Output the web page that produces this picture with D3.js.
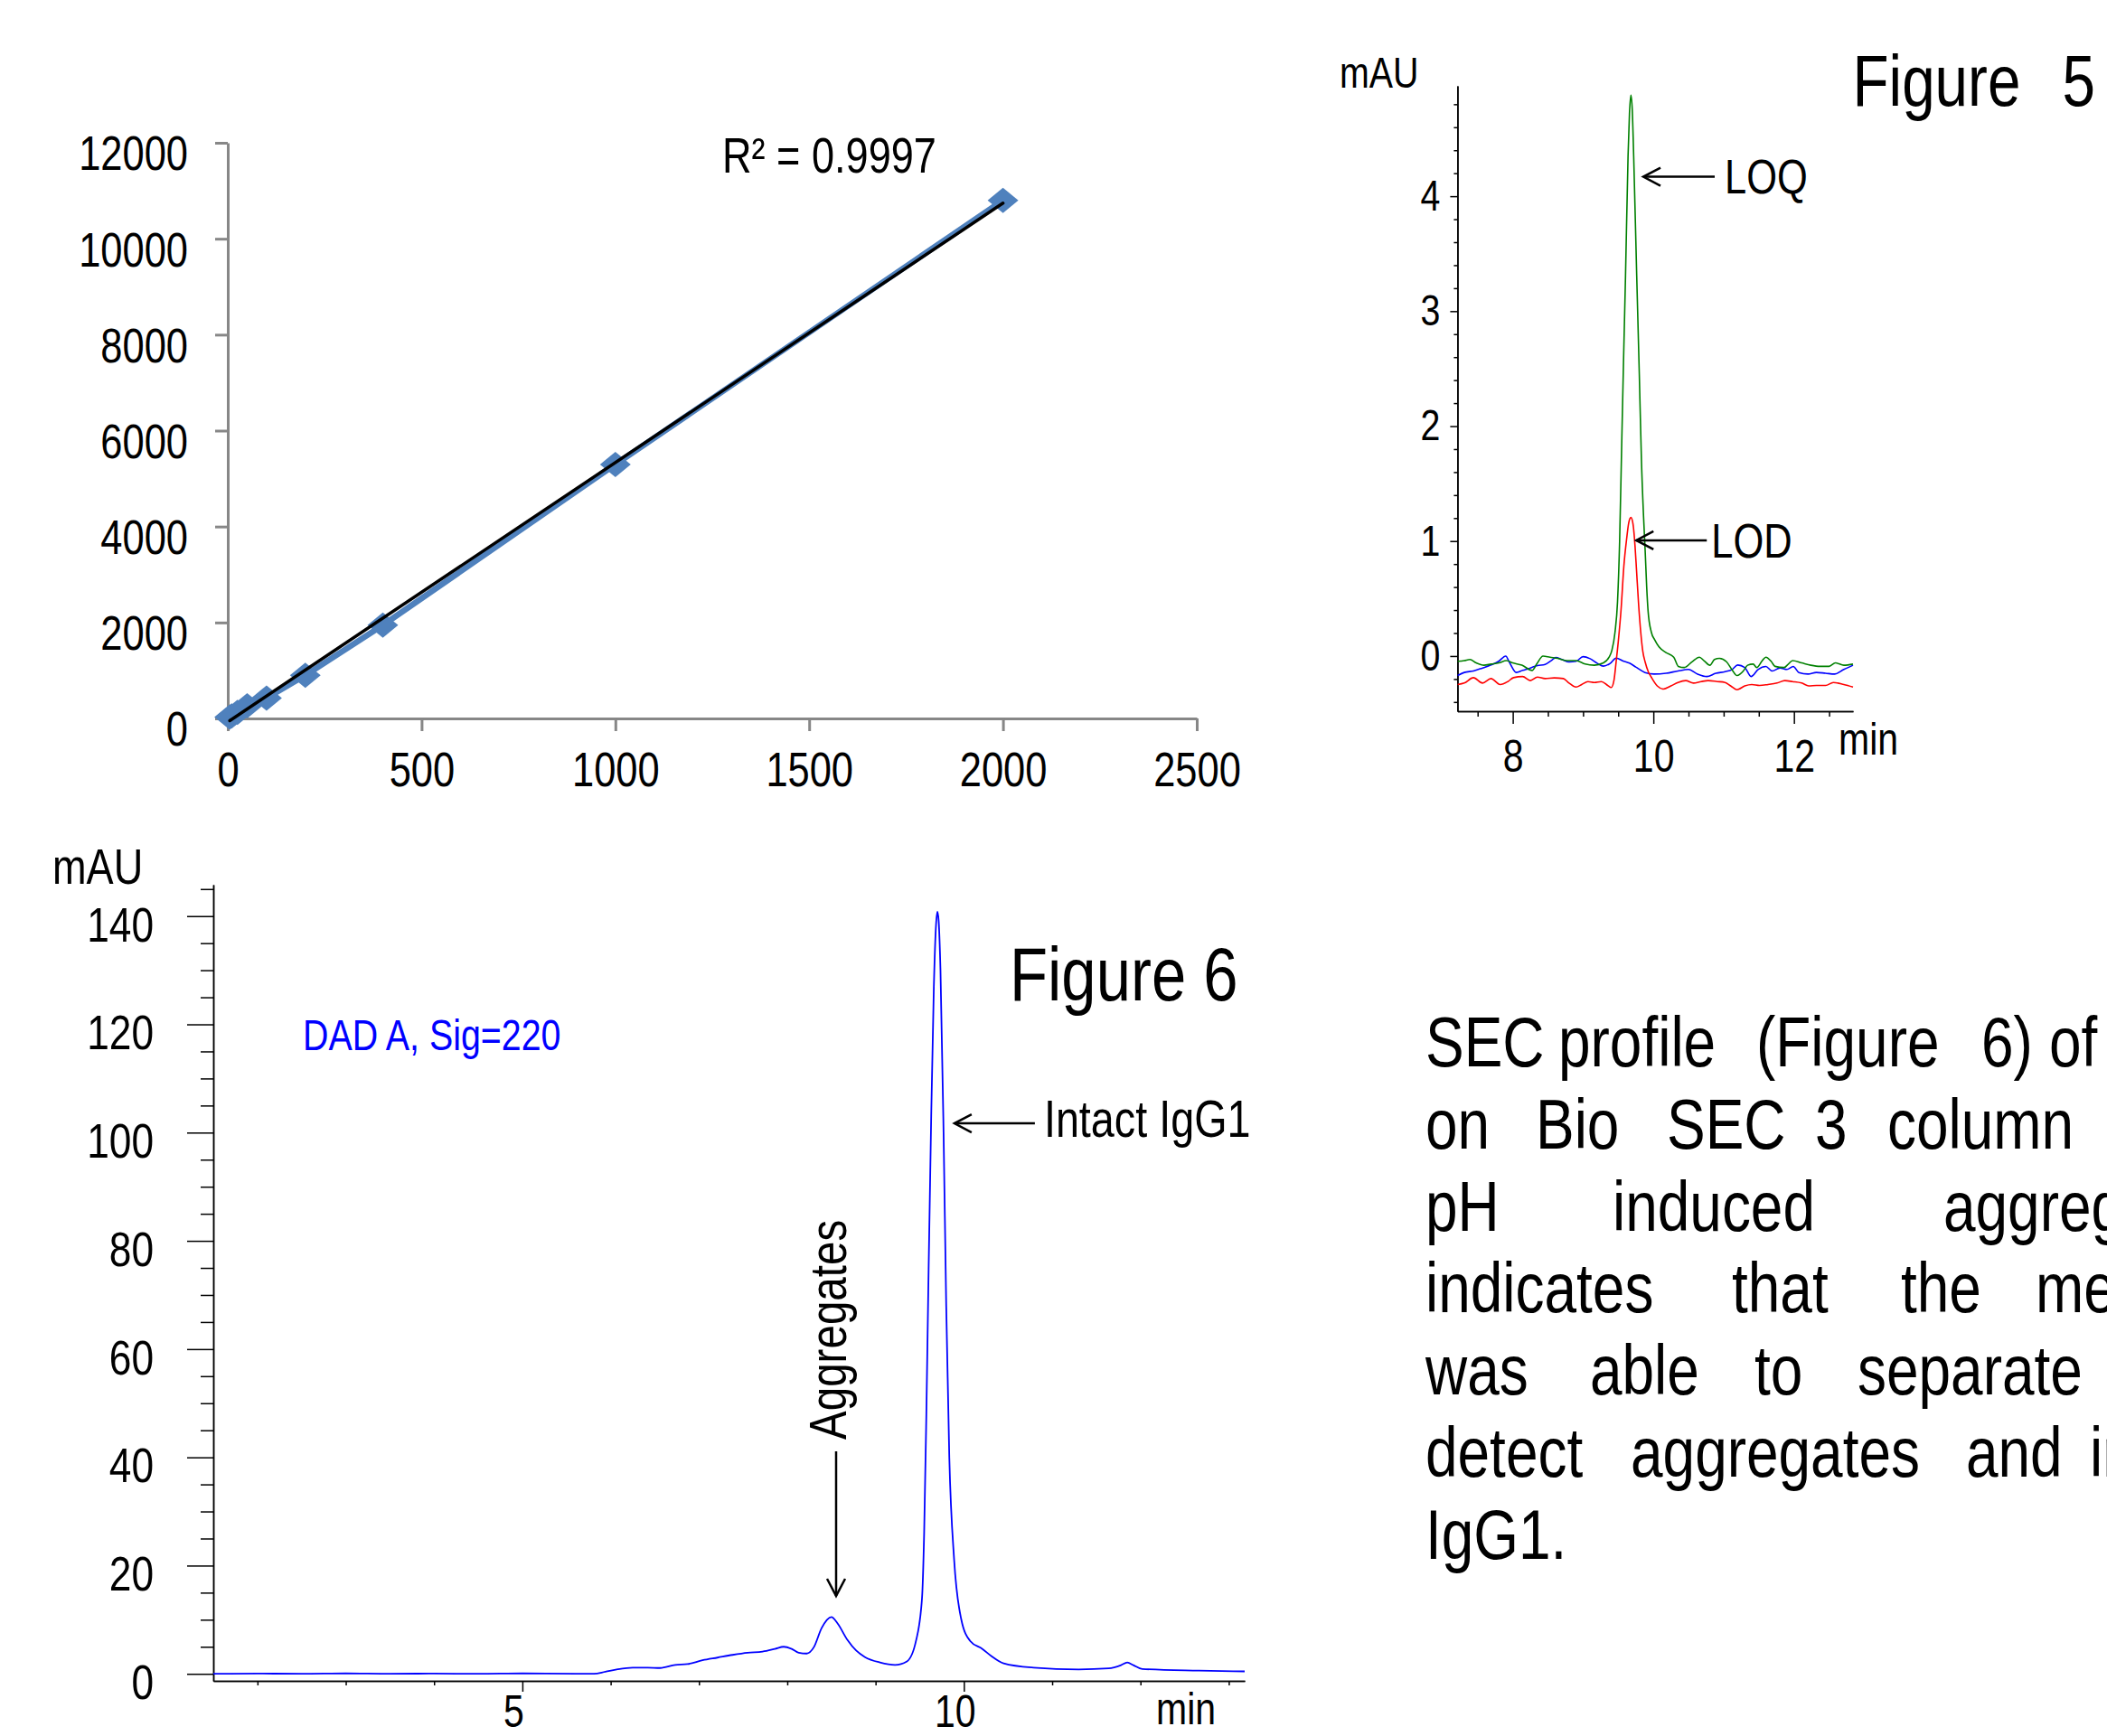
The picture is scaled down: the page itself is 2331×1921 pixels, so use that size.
<!DOCTYPE html>
<html>
<head>
<meta charset="utf-8">
<script src="https://cdn.jsdelivr.net/npm/d3@7"></script>
<style>
  html, body { margin: 0; padding: 0; background: #fff; overflow: hidden; }
  svg { display: block; }
  text { font-family: "Liberation Sans", Arial, sans-serif; fill: #000; }
</style>
</head>
<body>
<div class="container"></div>
<script>
// ---------- calibration plot (top left) ----------
var calConc = [5, 10, 25, 50, 100, 200, 400, 1000, 2000];
var calArea = [28, 52, 128, 262, 425, 900, 1945, 5295, 10800];
var calXTicks = [0, 500, 1000, 1500, 2000, 2500];
var calYTicks = [0, 2000, 4000, 6000, 8000, 10000, 12000];
var calR2 = "R\u00b2 = 0.9997";

// ---------- Figure 5 : LOQ / LOD / blank traces (min, mAU) ----------
var loqTrace = [[7.216,-0.046],[7.31,-0.04],[7.39,-0.03],[7.48,-0.06],[7.59,-0.08],[7.69,-0.07],[7.80,-0.06],[7.91,-0.04],
  [8.00,-0.06],[8.13,-0.08],[8.275,-0.125],[8.34,-0.07],[8.43,0.0],[8.53,-0.01],[8.64,-0.02],[8.77,-0.04],[8.90,-0.04],
  [9.03,-0.07],[9.16,-0.08],[9.29,-0.06],[9.37,-0.01],[9.41,0.05],[9.455,0.21],[9.49,0.47],[9.52,1.0],[9.545,1.71],
  [9.575,2.55],[9.604,3.31],[9.64,4.35],[9.66,4.72],[9.681,4.88],[9.70,4.75],[9.72,4.35],[9.763,3.31],[9.80,2.45],
  [9.83,1.71],[9.86,1.22],[9.883,0.92],[9.905,0.6],[9.925,0.39],[9.97,0.21],[10.02,0.14],[10.08,0.08],[10.18,0.03],
  [10.29,-0.01],[10.355,-0.09],[10.44,-0.1],[10.55,-0.05],[10.655,-0.01],[10.72,-0.04],[10.805,-0.08],[10.87,-0.03],
  [10.94,-0.02],[11.04,-0.05],[11.12,-0.12],[11.19,-0.17],[11.28,-0.13],[11.34,-0.08],[11.42,-0.07],[11.47,-0.1],
  [11.55,-0.04],[11.60,-0.01],[11.68,-0.05],[11.73,-0.09],[11.86,-0.1],[11.92,-0.07],[11.98,-0.04],[12.11,-0.06],
  [12.24,-0.08],[12.37,-0.09],[12.50,-0.09],[12.59,-0.06],[12.71,-0.08],[12.84,-0.07]];

var lodTrace = [[7.216,-0.248],[7.31,-0.235],[7.44,-0.188],[7.57,-0.235],[7.69,-0.196],[7.82,-0.248],[7.93,-0.222],
  [8.01,-0.188],[8.14,-0.178],[8.25,-0.214],[8.35,-0.183],[8.46,-0.196],[8.59,-0.19],[8.72,-0.196],[8.80,-0.235],
  [8.90,-0.27],[8.98,-0.248],[9.07,-0.222],[9.16,-0.23],[9.26,-0.222],[9.35,-0.256],[9.40,-0.274],[9.44,-0.209],
  [9.47,-0.052],[9.50,0.12],[9.54,0.40],[9.58,0.78],[9.62,1.02],[9.65,1.16],[9.681,1.205],[9.71,1.15],[9.74,0.95],
  [9.76,0.75],[9.79,0.45],[9.82,0.21],[9.85,0.04],[9.883,-0.052],[9.93,-0.14],[9.97,-0.183],[10.055,-0.26],
  [10.14,-0.287],[10.25,-0.26],[10.35,-0.23],[10.46,-0.214],[10.57,-0.235],[10.68,-0.222],[10.78,-0.214],
  [10.91,-0.222],[11.02,-0.23],[11.10,-0.26],[11.19,-0.293],[11.30,-0.26],[11.40,-0.248],[11.51,-0.256],
  [11.63,-0.248],[11.76,-0.235],[11.87,-0.214],[11.98,-0.222],[12.11,-0.235],[12.21,-0.26],[12.32,-0.256],
  [12.45,-0.256],[12.56,-0.23],[12.71,-0.248],[12.84,-0.27]];

var blankTrace = [[7.216,-0.17],[7.31,-0.143],[7.44,-0.13],[7.57,-0.104],[7.69,-0.078],[7.80,-0.046],[7.90,0.0],
  [7.95,-0.052],[8.05,-0.143],[8.14,-0.125],[8.25,-0.104],[8.35,-0.083],[8.46,-0.073],[8.55,-0.039],[8.61,-0.013],
  [8.70,-0.03],[8.80,-0.052],[8.90,-0.046],[9.00,-0.005],[9.10,-0.023],[9.20,-0.062],[9.29,-0.088],[9.39,-0.062],
  [9.47,-0.018],[9.58,-0.046],[9.66,-0.062],[9.75,-0.096],[9.88,-0.143],[10.01,-0.157],[10.18,-0.15],[10.35,-0.13],
  [10.50,-0.117],[10.63,-0.157],[10.76,-0.178],[10.89,-0.15],[11.02,-0.136],[11.12,-0.117],[11.20,-0.078],
  [11.30,-0.099],[11.39,-0.178],[11.49,-0.117],[11.60,-0.091],[11.69,-0.13],[11.80,-0.104],[11.90,-0.117],
  [11.99,-0.091],[12.07,-0.143],[12.20,-0.157],[12.32,-0.143],[12.45,-0.15],[12.58,-0.157],[12.71,-0.117],[12.84,-0.08]];

var f5XTicks = [8, 10, 12];
var f5YTicks = [0, 1, 2, 3, 4];

// ---------- Figure 6 : SEC profile, DAD A Sig=220 (min, mAU) ----------
var secTrace = [[1.5,0.0],[2.0,0.05],[2.5,0.0],[3.0,0.08],[3.5,0.0],[4.0,0.05],[4.5,0.0],[5.0,0.08],[5.6,0.0],
  [5.81,0.0],[5.94,0.4],[6.08,0.85],[6.25,1.14],[6.42,1.14],[6.56,1.08],[6.73,1.64],[6.87,1.8],[7.04,2.5],
  [7.21,3.0],[7.38,3.5],[7.55,3.9],[7.72,4.1],[7.86,4.6],[7.96,5.0],[8.05,4.6],[8.13,3.9],[8.22,3.75],[8.30,4.9],
  [8.39,8.5],[8.50,10.5],[8.57,9.3],[8.68,6.3],[8.78,4.3],[8.88,3.1],[9.05,2.1],[9.22,1.65],[9.355,2.3],
  [9.458,6.1],[9.526,14.0],[9.55,26],[9.575,48],[9.60,74],[9.63,103],[9.66,127],[9.685,138.5],[9.70,140.8],
  [9.715,139],[9.735,130],[9.77,100],[9.80,68],[9.835,40],[9.89,21],[9.97,10.1],[10.07,6.1],[10.21,4.6],
  [10.31,3.3],[10.45,1.94],[10.79,1.15],[11.30,0.82],[11.64,1.0],[11.78,1.6],[11.85,2.1],[11.92,1.6],
  [12.02,0.9],[12.66,0.6],[13.18,0.45]];

var f6XTicks = [5, 10];
var f6YTicks = [0, 20, 40, 60, 80, 100, 120, 140];

// ---------- paragraph ----------
var paraLines = [
  ["SEC", "profile", "(Figure", "6)", "of"],
  ["on", "Bio", "SEC", "3", "column"],
  ["pH", "induced", "aggregation"],
  ["indicates", "that", "the", "method"],
  ["was", "able", "to", "separate"],
  ["detect", "aggregates", "and", "intact"],
  ["IgG1."]
];
// left edge of every word on the justified lines
var PARA_X = [
  [1577, 1724, 1943, 2192, 2267],
  [1577, 1699, 1844, 2008, 2088],
  [1577, 1784, 2150],
  [1577, 1916, 2103, 2252],
  [1577, 1759, 1941, 2055],
  [1577, 1804, 2175, 2312],
  [1577]
];

const WIDTH = 2331;
const HEIGHT = 1921;
const NARROW = 0.82;   // condensed look of the original typeface

var translate = function(x, y){
  return "translate(" + x + "," + y + ")";
};

var styleAxis = function(g, color, width, fontSize){
  g.attr('font-family', null).attr('font-size', null);
  g.selectAll('.domain, .tick line').attr('stroke', color).attr('stroke-width', width);
  g.selectAll('.tick text').attr('font-size', fontSize).attr('fill', '#000');
};

var diamond = function(w, h){
  return "M0," + (-h) + "L" + w + ",0L0," + h + "L" + (-w) + ",0Z";
};

var arrowHead = function(g, x, y, dir){
  // open arrow head, dir: 'left' or 'down'
  var pts = dir === 'left'
    ? [[x + 19, y - 10], [x, y], [x + 19, y + 10]]
    : [[x - 10, y - 19], [x, y], [x + 10, y - 19]];
  g.append('polyline').attr('points', pts.map(function(p){ return p.join(','); }).join(' '))
    .attr('fill', 'none').attr('stroke', '#000').attr('stroke-width', 2.5);
};

var svg = d3.select('.container').append('svg')
  .attr('width', WIDTH)
  .attr('height', HEIGHT);

svg.append('rect').attr('width', WIDTH).attr('height', HEIGHT).attr('fill', '#fff');

var fmt = d3.format('d');

// =============== calibration plot ===============
var drawCalibration = function(){
  var x = d3.scaleLinear().domain([0, 2500]).range([252, 1324]);
  var y = d3.scaleLinear().domain([0, 12000]).range([795, 158]);
  var g = svg.append('g').attr('class', 'calibration');

  var gx = g.append('g').attr('transform', translate(0, y(0)))
    .call(d3.axisBottom(x).tickValues(calXTicks).tickFormat(fmt).tickSize(14).tickSizeOuter(0).tickPadding(23));
  styleAxis(gx, '#878787', 3, 53);

  var gy = g.append('g').attr('transform', translate(x(0), 0))
    .call(d3.axisLeft(y).tickValues(calYTicks).tickFormat(fmt).tickSize(14).tickSizeOuter(0).tickPadding(30));
  styleAxis(gy, '#878787', 3, 53);
  gy.selectAll('.tick text').attr('y', 13);

  var pts = calConc.map(function(c, i){ return [c, calArea[i]]; });

  g.append('path').datum(pts)
    .attr('d', d3.line().x(function(d){ return x(d[0]); }).y(function(d){ return y(d[1]); }))
    .attr('fill', 'none').attr('stroke', '#4F81BD').attr('stroke-width', 6.5)
    .attr('stroke-linejoin', 'round');

  g.selectAll('path.marker').data(pts).enter().append('path')
    .attr('class', 'marker')
    .attr('d', diamond(17, 14))
    .attr('transform', function(d){ return translate(x(d[0]), y(d[1])); })
    .attr('fill', '#4F81BD');

  // least squares trend line
  var mx = d3.mean(calConc), my = d3.mean(calArea);
  var sxy = d3.sum(calConc, function(c, i){ return (c - mx) * (calArea[i] - my); });
  var sxx = d3.sum(calConc, function(c){ return (c - mx) * (c - mx); });
  var slope = sxy / sxx, icpt = my - slope * mx;
  var ext = d3.extent(calConc);
  g.append('path').datum(ext.map(function(c){ return [c, icpt + slope * c]; }))
    .attr('d', d3.line().x(function(d){ return x(d[0]); }).y(function(d){ return y(d[1]); }))
    .attr('fill', 'none').attr('stroke', '#000').attr('stroke-width', 3.5).attr('stroke-linecap', 'round');

  g.append('text').attr('x', 799).attr('y', 191).attr('font-size', 55).text(calR2);
};

// =============== Figure 5 ===============
var drawFigure5 = function(){
  var x = d3.scaleLinear().domain([7.213, 12.84]).range([1612.4, 2050]);
  var y = d3.scaleLinear().domain([-0.48, 4.96]).range([787, 95]);
  var g = svg.append('g').attr('class', 'figure5');

  var minorX = d3.range(7.5, 12.6, 0.5).filter(function(v){ return f5XTicks.indexOf(v) < 0; });
  var minorY = d3.range(-0.4, 4.9, 0.2).filter(function(v){ return Math.abs(v - Math.round(v)) > 1e-6; });

  var gxm = g.append('g').attr('transform', translate(0, 787))
    .call(d3.axisBottom(x).tickValues(minorX).tickSize(6).tickSizeOuter(0).tickFormat(''));
  styleAxis(gxm, '#000', 1.5, 50);
  var gx = g.append('g').attr('transform', translate(0, 787))
    .call(d3.axisBottom(x).tickValues(f5XTicks).tickFormat(fmt).tickSize(14).tickSizeOuter(0).tickPadding(18));
  styleAxis(gx, '#000', 1.5, 50);

  var gym = g.append('g').attr('transform', translate(1612.4, 0))
    .call(d3.axisLeft(y).tickValues(minorY).tickSize(4).tickSizeOuter(0).tickFormat(''));
  styleAxis(gym, '#000', 1.5, 48);
  var gy = g.append('g').attr('transform', translate(1612.4, 0))
    .call(d3.axisLeft(y).tickValues(f5YTicks).tickFormat(fmt).tickSize(8).tickSizeOuter(0).tickPadding(11));
  styleAxis(gy, '#000', 1.5, 48);

  var line = d3.line().x(function(d){ return x(d[0]); }).y(function(d){ return y(d[1]); })
    .curve(d3.curveMonotoneX);

  [[blankTrace, '#0000FF'], [loqTrace, '#008000'], [lodTrace, '#FF0000']].forEach(function(s){
    g.append('path').datum(s[0]).attr('d', line)
      .attr('fill', 'none').attr('stroke', s[1]).attr('stroke-width', 1.6);
  });

  g.append('text').attr('x', 1482).attr('y', 97).attr('font-size', 48).text('mAU');
  g.append('text').attr('x', 2034).attr('y', 835).attr('font-size', 50).text('min');
  g.append('text').attr('x', 2318).attr('y', 117).attr('font-size', 80)
    .attr('text-anchor', 'end').attr('word-spacing', 34).text('Figure 5');

  // LOQ annotation
  var qx = x(9.857), qy = y(4.169);
  g.append('line').attr('x1', qx).attr('y1', qy).attr('x2', qx + 79).attr('y2', qy)
    .attr('stroke', '#000').attr('stroke-width', 2.5);
  arrowHead(g, qx, qy, 'left');
  g.append('text').attr('x', qx + 90).attr('y', qy + 18).attr('font-size', 53).text('LOQ');

  // LOD annotation
  var dx = x(9.757), dy = y(1.006);
  g.append('line').attr('x1', dx).attr('y1', dy).attr('x2', dx + 78).attr('y2', dy)
    .attr('stroke', '#000').attr('stroke-width', 2.5);
  arrowHead(g, dx, dy, 'left');
  g.append('text').attr('x', dx + 83).attr('y', dy + 19).attr('font-size', 53).text('LOD');
};

// =============== Figure 6 ===============
var drawFigure6 = function(){
  var x = d3.scaleLinear().domain([1.5, 13.18]).range([236, 1377]);
  var y = d3.scaleLinear().domain([-1.3, 145.8]).range([1860, 979]);
  var g = svg.append('g').attr('class', 'figure6');

  var minorX = d3.range(2, 14, 1).filter(function(v){ return f6XTicks.indexOf(v) < 0; });
  var minorY = d3.range(5, 150, 5).filter(function(v){ return v % 20 !== 0; });

  var gxm = g.append('g').attr('transform', translate(0, 1860))
    .call(d3.axisBottom(x).tickValues(minorX).tickSize(5).tickSizeOuter(0).tickFormat(''));
  styleAxis(gxm, '#000', 1.5, 50);
  var gx = g.append('g').attr('transform', translate(0, 1860))
    .call(d3.axisBottom(x).tickValues(f6XTicks).tickFormat(fmt).tickSize(12).tickSizeOuter(0).tickPadding(4));
  styleAxis(gx, '#000', 1.5, 50);
  gx.selectAll('.tick text').attr('x', -10);

  var gym = g.append('g').attr('transform', translate(236, 0))
    .call(d3.axisLeft(y).tickValues(minorY).tickSize(14).tickSizeOuter(0).tickFormat(''));
  styleAxis(gym, '#000', 1.5, 54);
  var gy = g.append('g').attr('transform', translate(236, 0))
    .call(d3.axisLeft(y).tickValues(f6YTicks).tickFormat(fmt).tickSize(29).tickSizeOuter(0).tickPadding(37));
  styleAxis(gy, '#000', 1.5, 54);
  gy.selectAll('.tick text').attr('y', 10);

  var line = d3.line().x(function(d){ return x(d[0]); }).y(function(d){ return y(d[1]); })
    .curve(d3.curveMonotoneX);
  g.append('path').datum(secTrace).attr('d', line)
    .attr('fill', 'none').attr('stroke', '#0000FF').attr('stroke-width', 1.8);

  g.append('text').attr('x', 58).attr('y', 978).attr('font-size', 55).text('mAU');
  g.append('text').attr('x', 1279).attr('y', 1908).attr('font-size', 50).text('min');
  g.append('text').attr('x', 335).attr('y', 1162).attr('font-size', 48)
    .style('fill', '#0000FF').text('DAD A, Sig=220');
  g.append('text').attr('x', 1117).attr('y', 1107).attr('font-size', 84).text('Figure 6');

  // intact IgG1 annotation
  var ix = x(9.893), iy = y(101.7);
  g.append('line').attr('x1', ix).attr('y1', iy).attr('x2', ix + 89).attr('y2', iy)
    .attr('stroke', '#000').attr('stroke-width', 2.5);
  arrowHead(g, ix, iy, 'left');
  g.append('text').attr('x', ix + 99).attr('y', iy + 15).attr('font-size', 57).text('Intact IgG1');

  // aggregates annotation
  var ax = x(8.553), ay = y(14.4);
  g.append('line').attr('x1', ax).attr('y1', ay).attr('x2', ax).attr('y2', ay - 160)
    .attr('stroke', '#000').attr('stroke-width', 2.5);
  arrowHead(g, ax, ay, 'down');
  g.append('text').attr('transform', translate(ax + 11, ay - 173) + ' rotate(-90)')
    .attr('font-size', 58).text('Aggregates');
};

// =============== paragraph ===============
var drawParagraph = function(){
  var g = svg.append('g').attr('class', 'paragraph');
  paraLines.forEach(function(words, li){
    words.forEach(function(w, wi){
      g.append('text').attr('x', PARA_X[li][wi]).attr('y', 1180 + li * 90.8)
        .attr('font-size', 78).text(w);
    });
  });
};

// squeeze every text horizontally (about its own anchor), like the condensed face of the original
var condense = function(sel, k){
  sel.each(function(){
    var t = d3.select(this);
    var x = +t.attr('x') || 0;
    var tr = t.attr('transform') || '';
    t.attr('x', x / k).attr('transform', (tr + ' scale(' + k + ',1)').trim());
  });
};

drawCalibration();
drawFigure5();
drawFigure6();
drawParagraph();
svg.selectAll('text').call(condense, NARROW);
</script>
</body>
</html>
